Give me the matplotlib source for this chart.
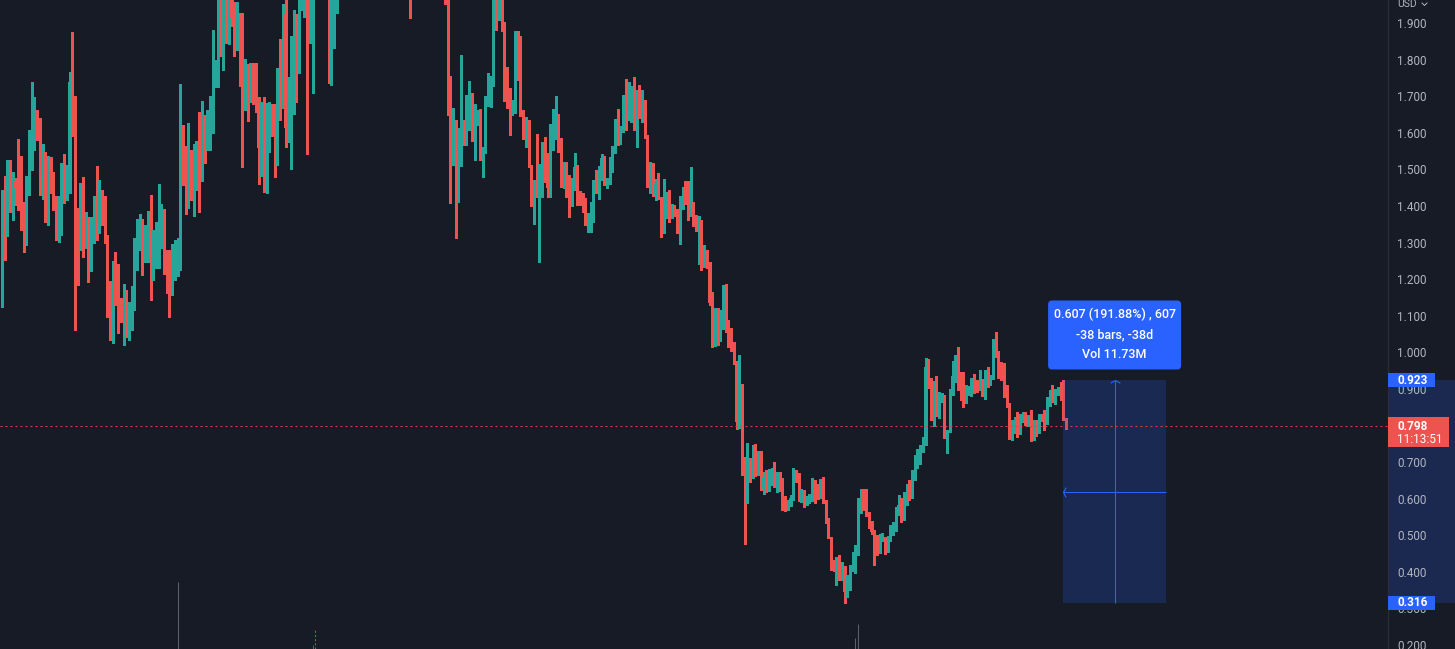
import matplotlib
matplotlib.use("Agg")
import matplotlib.pyplot as plt
import matplotlib.patches as mpatches
from matplotlib.path import Path
from matplotlib.transforms import IdentityTransform
import numpy as np

plt.rcParams['font.family'] = ['Roboto', 'DejaVu Sans']
plt.rcParams['lines.scale_dashes'] = False

# daily candles, open = previous close
first_open = 1.151
closes = [
    1.370, 1.320, 1.512, 1.444, 1.468, 1.449, 1.419, 1.346, 1.331, 1.471,
    1.550, 1.586, 1.624, 1.613, 1.473, 1.528, 1.373, 1.515, 1.460, 1.419,
    1.315, 1.337, 1.468, 1.444, 1.457, 1.739, 1.681, 1.359, 1.331, 1.367,
    1.307, 1.329, 1.247, 1.315, 1.416, 1.381, 1.422, 1.402, 1.315, 1.135,
    1.047, 1.233, 1.225, 1.124, 1.121, 1.124, 1.047, 1.099, 1.124, 1.266,
    1.293, 1.329, 1.275, 1.296, 1.315, 1.258, 1.277, 1.288, 1.346, 1.354,
    1.244, 1.225, 1.222, 1.241, 1.252, 1.266, 1.594, 1.504, 1.452, 1.479,
    1.463, 1.468, 1.534, 1.501, 1.641, 1.569, 1.621, 1.671, 1.731, 1.758,
    1.977, 1.867, 1.938, 1.908, 1.963, 1.914, 1.886, 1.889, 1.772, 1.698,
    1.753, 1.712, 1.750, 1.725, 1.662, 1.558, 1.638, 1.493, 1.621, 1.665,
    1.600, 1.558, 1.750, 1.684, 1.925, 1.613, 1.641, 1.654, 1.807, 1.783,
    1.990, 2.072, 2.100, 2.018, 2.072, 2.127, 2.180, 2.220, 2.160, 2.200,
    2.100, 1.818, 1.941, 2.004, 2.045,
    2.08, 2.12, 2.18, 2.15, 2.22, 2.28, 2.25, 2.31, 2.36, 2.30,
    2.27, 2.33, 2.40, 2.37, 2.29, 2.24, 2.26, 2.20, 2.15, 2.19,
    2.23, 2.17, 2.12, 2.09, 2.14, 2.11, 2.05, 2.10, 2.16, 2.21,
    2.18, 2.24, 2.20, 2.15, 2.11, 2.08, 2.13, 2.06, 2.03,
    1.955, 1.701, 1.534, 1.619, 1.553, 1.561, 1.591, 1.589, 1.671, 1.695,
    1.602, 1.643, 1.646, 1.537, 1.556, 1.695, 1.712, 1.739, 1.963, 1.941,
    1.958, 1.900, 1.733, 1.722, 1.657, 1.668, 1.873, 1.835, 1.660, 1.591,
    1.632, 1.509, 1.402, 1.463, 1.436, 1.441, 1.550, 1.517, 1.449, 1.616,
    1.621, 1.638, 1.583, 1.476, 1.509, 1.433, 1.408, 1.446, 1.507, 1.436,
    1.405, 1.395, 1.359, 1.381, 1.384, 1.468, 1.444, 1.498, 1.531, 1.463,
    1.466, 1.507, 1.556, 1.630, 1.575, 1.613, 1.695, 1.654, 1.676, 1.681,
    1.616, 1.695, 1.651, 1.684, 1.589, 1.455, 1.512, 1.430, 1.463, 1.425,
    1.334, 1.395, 1.419, 1.373, 1.397, 1.386, 1.334, 1.425, 1.427, 1.416,
    1.375, 1.397, 1.356, 1.343, 1.354, 1.244, 1.258, 1.239,
    1.135, 1.031, 1.099, 1.039, 1.077, 1.173, 1.061, 1.042, 1.015, 0.974,
    0.810, 0.889, 0.670, 0.596, 0.684, 0.680, 0.744, 0.676, 0.728, 0.627,
    0.659, 0.635, 0.662, 0.673, 0.643, 0.665, 0.643, 0.599, 0.575, 0.588,
    0.602, 0.662, 0.659, 0.602, 0.624, 0.591, 0.596, 0.599, 0.632, 0.618,
    0.605, 0.635, 0.591, 0.539, 0.495, 0.427, 0.413, 0.441, 0.383, 0.411,
    0.345, 0.386, 0.411, 0.424, 0.457, 0.564, 0.605, 0.596, 0.555, 0.534,
    0.509, 0.495, 0.479, 0.493, 0.495, 0.463, 0.495, 0.514, 0.528, 0.564,
    0.583, 0.547, 0.596, 0.624, 0.610, 0.657, 0.692, 0.700, 0.731, 0.752,
    0.960, 0.924, 0.829, 0.908, 0.848, 0.873, 0.881, 0.769, 0.785, 0.897,
    0.935, 0.941, 0.933, 0.884, 0.875, 0.889, 0.894, 0.911, 0.905, 0.903,
    0.924, 0.889, 0.941, 0.916, 0.933, 1.026, 0.998, 0.933, 0.930, 0.884,
    0.856, 0.766, 0.788, 0.815, 0.782, 0.821, 0.829, 0.810, 0.815, 0.766,
    0.807, 0.782, 0.821, 0.818, 0.815, 0.862, 0.886, 0.870, 0.889, 0.892,
    0.884, 0.818, 0.798,
]
highs = [
    1.444, 1.482, 1.526, 1.526, 1.493, 1.476, 1.583, 1.537, 1.411, 1.482,
    1.608, 1.739, 1.698, 1.662, 1.641, 1.569, 1.547, 1.537, 1.534, 1.493,
    1.427, 1.427, 1.517, 1.542, 1.512, 1.766, 1.876, 1.701, 1.395, 1.463,
    1.479, 1.384, 1.370, 1.370, 1.427, 1.509, 1.471, 1.444, 1.427, 1.320,
    1.195, 1.250, 1.275, 1.241, 1.149, 1.187, 1.170, 1.138, 1.181, 1.312,
    1.365, 1.378, 1.365, 1.348, 1.386, 1.430, 1.334, 1.357, 1.460, 1.405,
    1.392, 1.280, 1.280, 1.296, 1.307, 1.312, 1.733, 1.621, 1.564, 1.627,
    1.553, 1.569, 1.578, 1.657, 1.687, 1.649, 1.662, 1.701, 1.881, 1.799,
    2.018, 1.990, 1.990, 1.977, 2.004, 1.990, 1.958, 1.958, 1.927, 1.927,
    1.802, 1.788, 1.791, 1.791, 1.791, 1.698, 1.684, 1.698, 1.681, 1.684,
    1.679, 1.679, 1.777, 1.856, 1.952, 1.963, 1.753, 1.865, 1.936, 1.925,
    2.045, 2.127, 2.182, 2.154, 2.182, 2.209, 2.240, 2.280, 2.250, 2.260,
    2.220, 2.120, 1.990, 2.045, 2.100,
    2.11, 2.15, 2.21, 2.22, 2.25, 2.31, 2.32, 2.34, 2.40, 2.38,
    2.33, 2.36, 2.44, 2.43, 2.39, 2.31, 2.30, 2.28, 2.22, 2.22,
    2.26, 2.25, 2.19, 2.15, 2.17, 2.16, 2.13, 2.13, 2.19, 2.24,
    2.24, 2.27, 2.27, 2.22, 2.17, 2.14, 2.16, 2.15, 2.09,
    2.060, 1.977, 1.755, 1.668, 1.635, 1.613, 1.813, 1.635, 1.703, 1.742,
    1.709, 1.679, 1.662, 1.665, 1.561, 1.701, 1.764, 1.755, 2.018, 1.990,
    1.990, 1.977, 1.903, 1.780, 1.722, 1.690, 1.878, 1.878, 1.865, 1.662,
    1.643, 1.635, 1.512, 1.471, 1.597, 1.515, 1.575, 1.589, 1.545, 1.624,
    1.665, 1.701, 1.651, 1.586, 1.520, 1.520, 1.485, 1.476, 1.545, 1.512,
    1.440, 1.436, 1.422, 1.381, 1.411, 1.471, 1.498, 1.509, 1.542, 1.537,
    1.476, 1.534, 1.564, 1.638, 1.665, 1.619, 1.703, 1.747, 1.739, 1.728,
    1.753, 1.717, 1.731, 1.717, 1.690, 1.594, 1.520, 1.517, 1.474, 1.490,
    1.425, 1.474, 1.438, 1.444, 1.405, 1.402, 1.392, 1.427, 1.452, 1.468,
    1.468, 1.507, 1.411, 1.375, 1.373, 1.362, 1.293, 1.280,
    1.247, 1.165, 1.121, 1.121, 1.116, 1.184, 1.187, 1.088, 1.067, 1.028,
    0.976, 0.993, 0.914, 0.714, 0.752, 0.711, 0.747, 0.750, 0.731, 0.731,
    0.673, 0.678, 0.681, 0.684, 0.700, 0.673, 0.673, 0.657, 0.607, 0.596,
    0.610, 0.684, 0.678, 0.670, 0.627, 0.624, 0.607, 0.613, 0.657, 0.651,
    0.640, 0.654, 0.659, 0.596, 0.547, 0.495, 0.432, 0.441, 0.446, 0.427,
    0.415, 0.391, 0.419, 0.454, 0.473, 0.602, 0.627, 0.627, 0.627, 0.564,
    0.539, 0.514, 0.501, 0.504, 0.506, 0.495, 0.498, 0.528, 0.536, 0.577,
    0.610, 0.602, 0.618, 0.640, 0.651, 0.678, 0.719, 0.736, 0.747, 0.769,
    0.985, 0.982, 0.930, 0.922, 0.935, 0.892, 0.889, 0.884, 0.788, 0.900,
    0.976, 0.993, 1.015, 0.946, 0.946, 0.911, 0.908, 0.930, 0.941, 0.924,
    0.952, 0.927, 0.952, 0.960, 0.938, 1.037, 1.056, 1.004, 0.974, 0.971,
    0.911, 0.862, 0.815, 0.823, 0.837, 0.832, 0.837, 0.837, 0.829, 0.842,
    0.815, 0.815, 0.832, 0.832, 0.842, 0.878, 0.897, 0.911, 0.900, 0.905,
    0.919, 0.924, 0.821,
]
lows = [
    1.124, 1.252, 1.318, 1.384, 1.362, 1.402, 1.389, 1.334, 1.275, 1.293,
    1.430, 1.498, 1.553, 1.580, 1.430, 1.419, 1.357, 1.348, 1.436, 1.389,
    1.307, 1.302, 1.320, 1.408, 1.416, 1.436, 1.591, 1.061, 1.184, 1.280,
    1.261, 1.285, 1.192, 1.222, 1.299, 1.307, 1.326, 1.348, 1.299, 1.097,
    1.034, 1.026, 1.129, 1.053, 1.083, 1.020, 1.042, 1.034, 1.061, 1.116,
    1.225, 1.280, 1.211, 1.247, 1.247, 1.143, 1.198, 1.230, 1.230, 1.285,
    1.214, 1.162, 1.097, 1.157, 1.198, 1.209, 1.225, 1.457, 1.378, 1.395,
    1.416, 1.373, 1.444, 1.384, 1.468, 1.517, 1.553, 1.553, 1.600, 1.725,
    1.725, 1.810, 1.772, 1.845, 1.843, 1.892, 1.810, 1.826, 1.728, 1.507,
    1.662, 1.632, 1.684, 1.679, 1.657, 1.460, 1.482, 1.438, 1.436, 1.547,
    1.591, 1.479, 1.512, 1.635, 1.668, 1.561, 1.575, 1.501, 1.651, 1.684,
    1.764, 1.936, 1.917, 1.542, 1.845, 1.709, 2.100, 2.120, 2.100, 2.120,
    2.050, 1.736, 1.731, 1.832, 1.927,
    2.03, 2.06, 2.10, 2.12, 2.13, 2.20, 2.22, 2.23, 2.29, 2.27,
    2.24, 2.25, 2.31, 2.34, 2.26, 2.20, 2.21, 2.17, 2.11, 2.13,
    2.17, 2.14, 2.08, 2.05, 2.07, 2.06, 1.914, 2.02, 2.08, 2.14,
    2.15, 2.16, 2.17, 2.12, 2.08, 2.04, 2.05, 2.02, 1.99,
    1.952, 1.649, 1.408, 1.512, 1.312, 1.411, 1.509, 1.567, 1.567, 1.608,
    1.578, 1.526, 1.621, 1.526, 1.479, 1.545, 1.673, 1.671, 1.728, 1.881,
    1.908, 1.878, 1.687, 1.668, 1.594, 1.649, 1.654, 1.744, 1.646, 1.583,
    1.561, 1.507, 1.400, 1.351, 1.425, 1.247, 1.425, 1.466, 1.425, 1.425,
    1.553, 1.583, 1.547, 1.452, 1.449, 1.425, 1.370, 1.400, 1.444, 1.402,
    1.402, 1.384, 1.348, 1.329, 1.329, 1.357, 1.436, 1.419, 1.471, 1.457,
    1.449, 1.460, 1.493, 1.545, 1.567, 1.569, 1.602, 1.608, 1.635, 1.630,
    1.608, 1.561, 1.641, 1.630, 1.586, 1.452, 1.436, 1.427, 1.416, 1.419,
    1.315, 1.326, 1.367, 1.357, 1.367, 1.373, 1.326, 1.296, 1.392, 1.405,
    1.362, 1.373, 1.346, 1.331, 1.241, 1.225, 1.233, 1.230,
    1.129, 1.015, 1.017, 1.020, 1.030, 1.064, 1.056, 1.015, 1.004, 0.968,
    0.791, 0.793, 0.665, 0.476, 0.588, 0.646, 0.657, 0.662, 0.665, 0.624,
    0.613, 0.618, 0.621, 0.638, 0.632, 0.618, 0.621, 0.569, 0.566, 0.569,
    0.580, 0.596, 0.646, 0.594, 0.591, 0.577, 0.583, 0.588, 0.594, 0.588,
    0.599, 0.602, 0.588, 0.534, 0.493, 0.405, 0.402, 0.364, 0.378, 0.378,
    0.316, 0.331, 0.350, 0.402, 0.397, 0.446, 0.561, 0.569, 0.553, 0.520,
    0.504, 0.419, 0.446, 0.452, 0.484, 0.449, 0.454, 0.484, 0.501, 0.512,
    0.555, 0.536, 0.542, 0.583, 0.596, 0.602, 0.651, 0.684, 0.695, 0.728,
    0.747, 0.903, 0.815, 0.799, 0.826, 0.821, 0.864, 0.766, 0.725, 0.782,
    0.884, 0.919, 0.897, 0.870, 0.851, 0.862, 0.884, 0.881, 0.889, 0.892,
    0.897, 0.881, 0.873, 0.905, 0.911, 0.927, 0.987, 0.930, 0.924, 0.878,
    0.851, 0.763, 0.760, 0.780, 0.769, 0.777, 0.810, 0.802, 0.799, 0.758,
    0.760, 0.771, 0.780, 0.813, 0.788, 0.804, 0.854, 0.864, 0.859, 0.884,
    0.870, 0.815, 0.791,
]

# clipped volume spikes poking up from the bottom edge
vol_spike_bars = [65, 115, 316, 317]
vol_spike_tops = [0.373, 0.200, 0.220, 0.258]
vol_spike_red_bar = 116
vol_spike_red_top = 0.242

last_price = 0.798
countdown = "11:13:51"
measure_lo = 0.316
measure_hi = 0.923
measure_bars = 38
measure_lines = ["0.607 (191.88%) , 607", "-38 bars, -38d", "Vol 11.73M"]
price_ticks = [0.2, 0.3, 0.4, 0.5, 0.6, 0.7, 0.8, 0.9, 1.0,
               1.1, 1.2, 1.3, 1.4, 1.5, 1.6, 1.7, 1.8, 1.9]

BG = '#171b26'
GREEN = '#26a69a'
RED = '#ef5350'
BLUE = '#2962ff'
AXIS_TXT = '#b2b5be'

W, H = 1455, 649
fig = plt.figure(figsize=(W / 100, H / 100), dpi=100)
fig.patch.set_facecolor(BG)
ax = fig.add_axes([0, 0, 1388 / W, 1])
ax.set_facecolor(BG)

c = np.array(closes)
h = np.array(highs)
l = np.array(lows)
o = np.concatenate([[first_open], c[:-1]])
n = len(c)
x = np.arange(n)
last = n - 1

ymax = 1.9 + 23 / 365.9
ymin = 1.9 - 626 / 365.9
px = (ymax - ymin) / H
step = 1064 / last
ax.set_xlim(-2 / step, last + 322 / step)
ax.set_ylim(ymin, ymax)

col = np.where(c >= o, GREEN, RED)
body_lo = np.minimum(o, c)
body_h = np.maximum(np.abs(c - o), px)
ax.vlines(x, np.minimum(l, body_lo), np.maximum(h, body_lo + body_h),
          colors=col, lw=0.75, zorder=2, antialiased=False)
ax.bar(x, body_h, bottom=body_lo, width=0.8, color=col, lw=0, zorder=3,
       antialiased=False)

ax.vlines(vol_spike_bars, ymin, vol_spike_tops, colors='#5d606b', lw=0.75, zorder=1)
ax.vlines([vol_spike_red_bar], ymin, [vol_spike_red_top], colors='#f23645', lw=0.75,
          linestyles=[(0, (1.5, 1.5))], zorder=1)

# last price line
ax.axhline(last_price, color='#f23645', lw=0.75, ls=(0, (1.4, 2.2)), zorder=6)

# measurement box
mx0 = last - 1
mx1 = mx0 + measure_bars
mid_x = (mx0 + mx1) / 2
mid_y = (measure_lo + measure_hi) / 2
ax.add_patch(mpatches.Rectangle((mx0, measure_lo), measure_bars, measure_hi - measure_lo,
                                facecolor=BLUE, alpha=0.2, lw=0, zorder=4))
ax.vlines(mid_x, measure_lo, measure_hi, colors=BLUE, lw=0.75, zorder=5)
ax.hlines(mid_y, mx0, mx1, colors=BLUE, lw=0.75, zorder=5)
up_arrow = Path([(-1, -0.55), (0, 0), (1, -0.55)], [Path.MOVETO, Path.LINETO, Path.LINETO])
left_arrow = Path([(0.55, 1), (0, 0), (0.55, -1)], [Path.MOVETO, Path.LINETO, Path.LINETO])
ax.plot([mid_x], [measure_hi], marker=up_arrow, ms=7, mec=BLUE, mfc='none', mew=0.8, zorder=5)
ax.plot([mx0], [mid_y], marker=left_arrow, ms=7, mec=BLUE, mfc='none', mew=0.8, zorder=5)

# axes styling
ax.xaxis.set_visible(False)
for s in ['left', 'top', 'bottom']:
    ax.spines[s].set_visible(False)
ax.spines['right'].set_color('#2a2e39')
ax.yaxis.tick_right()
ax.set_yticks(price_ticks)
ax.set_yticklabels([f"{v:.3f}" for v in price_ticks])
ax.tick_params(axis='y', length=0, pad=6.5, labelsize=8.5, labelcolor=AXIS_TXT)


def py(p):
    return ax.transData.transform((0, p))[1]


ident = IdentityTransform()
# axis band for the measured range
fig.add_artist(mpatches.Rectangle((1388, py(measure_lo)), W - 1388, py(measure_hi) - py(measure_lo),
                                  facecolor='#1b2951', lw=0, transform=ident, zorder=-1))

for v in [measure_hi, measure_lo]:
    fig.add_artist(mpatches.Rectangle((1388, py(v) - 7), 47, 14, facecolor=BLUE, lw=0,
                                      transform=ident, zorder=5))
    fig.text(1397 / W, py(v) / H, f"{v:.3f}", color='white', fontsize=8.5,
             fontweight='bold', va='center', ha='left', zorder=6)

ly = py(last_price)
fig.add_artist(mpatches.Rectangle((1388, ly - 21), 61, 30, facecolor=RED, lw=0,
                                  transform=ident, zorder=5))
fig.text(1397 / W, ly / H, f"{last_price:.3f}", color='white', fontsize=8.5,
         fontweight='bold', va='center', ha='left', zorder=6)
fig.text(1397 / W, (ly - 13) / H, countdown, color='white', fontsize=8.5,
         va='center', ha='left', zorder=6)

fig.text(1397 / W, (H - 4) / H, "USD", color=AXIS_TXT, fontsize=7.5, va='center', ha='left')
fig.add_artist(plt.Line2D([1422, 1424.5, 1427], [H - 3, H - 5.5, H - 3], color=AXIS_TXT,
                          lw=0.7, transform=ident))

# measurement tooltip
cx, ty = ax.transData.transform((mid_x, measure_hi))
tw, th, r = 133, 69, 4
tb = ty + 11
fig.add_artist(mpatches.FancyBboxPatch((cx - tw / 2 + r, tb + r), tw - 2 * r, th - 2 * r,
                                       boxstyle=f"round,pad={r}", facecolor=BLUE, lw=0,
                                       transform=ident, zorder=7))
for i, txt in enumerate(measure_lines):
    fig.text(cx / W, (tb + th - 14 - 20 * i) / H, txt, color='white', fontsize=9,
             fontweight='medium', ha='center', va='center', zorder=8)

fig.savefig('out.png', dpi=100, facecolor=BG)
